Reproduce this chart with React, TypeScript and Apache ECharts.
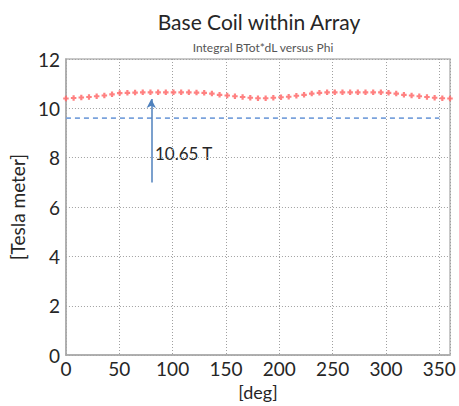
import React, { useEffect, useRef } from "react";
import * as echarts from "echarts";

// Phi angles [deg] and integral BTot*dL values [Tesla meter]
const phiDeg: number[] = [
  0, 7.2, 14.4, 21.6, 28.8, 36, 43.2, 50.4, 57.6, 64.8,
  72, 79.2, 86.4, 93.6, 100.8, 108, 115.2, 122.4, 129.6, 136.8,
  144, 151.2, 158.4, 165.6, 172.8, 180, 187.2, 194.4, 201.6, 208.8,
  216, 223.2, 230.4, 237.6, 244.8, 252, 259.2, 266.4, 273.6, 280.8,
  288, 295.2, 302.4, 309.6, 316.8, 324, 331.2, 338.4, 345.6, 352.8, 360,
];
const integralBdl: number[] = [
  10.4, 10.42, 10.44, 10.46, 10.49, 10.52, 10.57, 10.62, 10.63, 10.64,
  10.65, 10.65, 10.65, 10.65, 10.65, 10.65, 10.65, 10.64, 10.63, 10.6,
  10.55, 10.52, 10.49, 10.46, 10.43, 10.41, 10.41, 10.43, 10.45, 10.47,
  10.51, 10.55, 10.6, 10.63, 10.65, 10.65, 10.65, 10.65, 10.65, 10.65,
  10.65, 10.65, 10.63, 10.6, 10.55, 10.52, 10.49, 10.46, 10.43, 10.41, 10.4,
];
// Reference (dashed) level
const refPhi: number[] = [0, 350];
const refLevel: number[] = [9.6, 9.6];
// Annotation arrow
const arrowPhi = 80;
const arrowFrom = 7.0;
const arrowTo = 10.38;
const annotationText = "10.65 T";

const xTicks = { min: 0, max: 360, interval: 50 };
const yTicks = { min: 0, max: 12, interval: 2 };

const FONT = "Lato";

export default function App() {
  const ref = useRef<HTMLDivElement>(null);
  useEffect(() => {
    if (!ref.current) return;
    const chart = echarts.init(ref.current, null, { renderer: "svg" });
    const plusPath = "path://M3,0H7V3H10V7H7V10H3V7H0V3H3Z";
    chart.setOption({
      animation: false,
      backgroundColor: "#ffffff",
      title: [
        {
          text: "Base Coil within Array",
          left: 254,
          top: 6,
          textAlign: "center",
          textStyle: { fontFamily: FONT, fontSize: 21, fontWeight: "normal", color: "#262626" },
        },
        {
          text: "Integral BTot*dL versus Phi",
          left: 258,
          top: 36,
          textAlign: "center",
          textStyle: { fontFamily: FONT, fontSize: 12, fontWeight: "normal", color: "#555555" },
        },
      ],
      grid: {
        left: 65,
        right: 9,
        top: 59,
        bottom: 45,
        show: true,
        borderColor: "#b8b8b8",
        borderWidth: 1.5,
      },
      xAxis: {
        type: "value",
        min: xTicks.min,
        max: xTicks.max,
        interval: xTicks.interval,
        name: "[deg]",
        nameLocation: "middle",
        nameGap: 25,
        nameTextStyle: { fontFamily: FONT, fontSize: 18, color: "#262626" },
        axisLine: { show: true, lineStyle: { color: "#a8a8a8", width: 1.5 } },
        axisTick: { show: false },
        axisLabel: {
          margin: 4,
          fontFamily: FONT,
          fontSize: 19,
          color: "#262626",
          showMaxLabel: false,
        },
        splitLine: { show: true, lineStyle: { color: "#a0a0a0", type: [1, 2], width: 1 } },
      },
      yAxis: {
        type: "value",
        min: yTicks.min,
        max: yTicks.max,
        interval: yTicks.interval,
        name: "[Tesla meter]",
        nameLocation: "middle",
        nameGap: 31,
        nameTextStyle: { fontFamily: FONT, fontSize: 19, color: "#262626" },
        axisLine: { show: true, lineStyle: { color: "#a8a8a8", width: 1.5 } },
        axisTick: { show: false },
        axisLabel: { margin: 6, fontFamily: FONT, fontSize: 19, color: "#262626" },
        splitLine: { show: true, lineStyle: { color: "#a0a0a0", type: [1, 2], width: 1 } },
      },
      series: [
        {
          type: "line",
          data: refPhi.map((p, i) => [p, refLevel[i]]),
          showSymbol: false,
          symbol: "none",
          lineStyle: { color: "#7aa2dc", width: 1.8, type: [5, 4] },
          silent: true,
          markLine: {
            silent: true,
            symbol: ["none", "arrow"],
            symbolSize: [7, 9],
            label: { show: false },
            lineStyle: { color: "#4f81bd", width: 1.5, type: "solid" },
            data: [[{ coord: [arrowPhi, arrowFrom] }, { coord: [arrowPhi, arrowTo] }]],
          },
        },
        {
          type: "scatter",
          data: phiDeg.map((p, i) => [p, integralBdl[i]]),
          symbol: plusPath,
          symbolSize: 5.5,
          itemStyle: { color: "#ff6b6b", opacity: 0.85 },
          silent: true,
        },
      ],
      graphic: [
        {
          type: "text",
          x: 155,
          y: 153,
          style: {
            text: annotationText,
            fontFamily: FONT,
            fontSize: 17,
            fill: "#262626",
            verticalAlign: "middle",
          },
        },
      ],
    });
    return () => chart.dispose();
  }, []);
  return (
    <div
      ref={ref}
      style={{ position: "fixed", left: 0, top: 0, width: 459, height: 406 }}
    />
  );
}
